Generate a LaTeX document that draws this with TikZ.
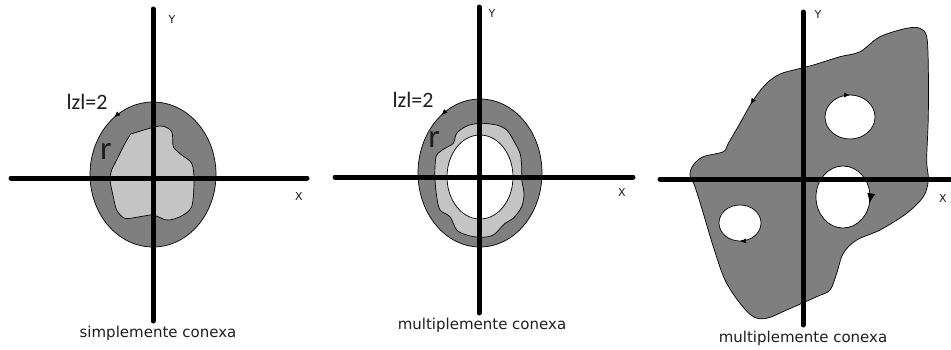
\documentclass[tikz,border=0pt]{standalone}
\usepackage{fontspec}
\setmainfont{DejaVu Sans}
\newfontfamily\labelfont{Carlito}
\usetikzlibrary{arrows.meta,decorations.markings}
\definecolor{darkfill}{HTML}{7F7F7F}
\definecolor{lightfill}{HTML}{C4C4C4}
\definecolor{inkgray}{HTML}{1E1E1E}
\tikzset{
  axis/.style={line width=5pt,line cap=round},
  region/.style={draw=black,line width=0.7pt,fill=darkfill},
  inner/.style={draw=black,line width=0.7pt,fill=lightfill},
  hole/.style={draw=black,line width=0.7pt,fill=white},
  lbl/.style={text=inkgray,font=\fontsize{15}{18}\selectfont,inner sep=0pt},
  axlbl/.style={text=inkgray,font=\fontsize{11}{13}\selectfont,inner sep=0pt},
  zlbl/.style={text=inkgray,font=\labelfont\fontsize{22}{24}\selectfont,inner sep=0pt},
  rlbl/.style={text=inkgray,font=\labelfont\fontsize{33}{35}\selectfont,inner sep=0pt},
  tipat/.style={postaction={decorate},decoration={markings,
    mark=at position #1 with {\arrow{Latex[length=6pt,width=5pt]}}}},
  tipback/.style={postaction={decorate},decoration={markings,
    mark=at position #1 with {\arrowreversed{Latex[length=6pt,width=5pt]}}}},
  bigtip/.style={postaction={decorate},decoration={markings,
    mark=at position #1 with {\arrow{Latex[length=10pt,width=8pt]}}}},
}
\begin{document}
\begin{tikzpicture}[x=1pt,y=-1pt]
\useasboundingbox (0,0) rectangle (951,349);

% simplemente conexa
\draw[region,tipback=0.65] (153,174.5) ellipse [x radius=63,y radius=72.5];
\draw[inner] plot[smooth cycle,tension=0.5] coordinates{(133.3,133.3) (160,126) (171.7,131.7) (173.3,146.7) (181.7,155) (191.7,163.3) (194,180) (191.7,206.7) (180,216.7) (166.7,220) (153.3,215) (140,216.7) (125,218.3) (116.7,210) (113.3,196.7) (110,180) (111.7,170) (116.7,160) (123.3,146.7) (130,135)};

% multiplemente conexa (anillo)
\draw[region,tipback=0.65] (480,173) ellipse [x radius=62,y radius=74];
\draw[inner] plot[smooth cycle,tension=0.5] coordinates{(480,123.3) (466.7,126) (456.7,133.3) (453.3,143.3) (445,148.3) (436.7,155) (435,166.7) (435,180) (436.7,196.7) (440,210) (450,216.7) (456.7,230) (466.7,235) (480,237.3) (493.3,235) (505,223.3) (513.3,218.3) (521.7,206.7) (524,193.3) (521.7,180) (521.7,166.7) (520,153.3) (513.3,140) (506.7,130) (496.7,125)};
\draw[hole] (480,177) ellipse [x radius=33,y radius=42];

% multiplemente conexa (con huecos)
\draw[region,tipat=0.006] plot[smooth cycle,tension=0.55] coordinates{(766.7,83.3) (753.3,100) (740,123.3) (728.3,143.3) (723.3,151.7) (703.3,156.7) (693.3,165) (690,175) (695,186.7) (703.3,213.3) (713.3,246.7) (725,280) (740,303.3) (753.3,316.7) (766.7,318.3) (786.7,310) (816.7,296.7) (830,290) (836.7,273.3) (843.3,253.3) (856.7,240) (880,230) (906.7,213.3) (923.3,196.7) (928.3,180) (926.7,160) (928.3,116.7) (928.3,66.7) (926.7,36.7) (920,28.3) (906.7,28.3) (880,36.7) (860,51.7) (840,56.7) (813.3,65) (796.7,69.3) (780,74)};
\draw[hole,tipat=0.75] (850,117) ellipse [x radius=25,y radius=22];
\draw[hole,bigtip=0.035] (843,197) ellipse [x radius=27,y radius=31];
\draw[hole,tipat=0.25] (740,223) ellipse [x radius=21,y radius=18];

% ejes
\foreach \cx/\cy/\xl/\xr/\yt/\yb in {153/178/11/307/9/321, 479/177/335/633/7/313, 803/179/660/951/12/325}{
  \draw[axis] (\xl,\cy) -- (\xr,\cy);
  \draw[axis] (\cx,\yt) -- (\cx,\yb);
}

% textos
\node[axlbl] (y1) at (172,19) {Y};
\node[axlbl] (x1) at (299,196) {X};
\node[axlbl] (y2) at (492,13) {Y};
\node[axlbl] (x2) at (622,192) {X};
\node[axlbl] (y3) at (818,14) {Y};
\node[axlbl] (x3) at (943,198) {X};
\node[zlbl] (z1) at (87,102) {lzl=2};
\node[zlbl] (z2) at (413,100) {lzl=2};
\node[rlbl] (r1) at (106,151) {r};
\node[rlbl] (r2) at (434,139) {r};
\node[lbl] (c1) at (158,333) {simplemente conexa};
\node[lbl] (c2) at (482,325) {multiplemente conexa};
\node[lbl] (c3) at (803,338) {multiplemente conexa};
\end{tikzpicture}
\end{document}
